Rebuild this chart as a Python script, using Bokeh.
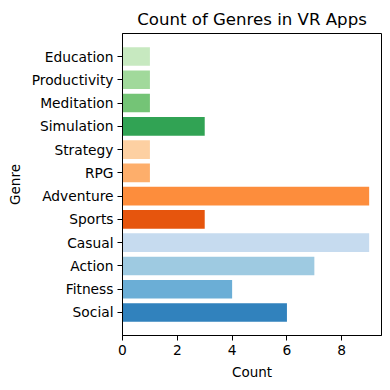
from bokeh.plotting import figure
from bokeh.models import ColumnDataSource, FactorRange, Range1d, FixedTicker
from bokeh.embed import file_html
from bokeh.resources import INLINE

genres = ["Social", "Fitness", "Action", "Casual", "Sports", "Adventure",
          "RPG", "Strategy", "Simulation", "Meditation", "Productivity", "Education"]
counts = [6, 4, 7, 9, 3, 9, 1, 1, 3, 1, 1, 1]
colors = ["#3182bd", "#6baed6", "#9ecae1", "#c6dbef",
          "#e6550d", "#fd8d3c", "#fdae6b", "#fdd0a2",
          "#31a354", "#74c476", "#a1d99b", "#c7e9c0"]
x_ticks = [0, 2, 4, 6, 8]

src = ColumnDataSource(dict(genre=genres, count=counts, color=colors))

FONT = "DejaVu Sans"
p = figure(width=382, height=382, output_backend="svg", toolbar_location=None,
           y_range=FactorRange(factors=genres, range_padding=0.98 / 12),
           x_range=Range1d(0, 9.45),
           title="Count of Genres in VR Apps",
           min_border_left=122, min_border_right=1, min_border_top=33, min_border_bottom=46)

p.hbar(y="genre", right="count", left=0, height=0.8, color="color", source=src, line_color=None)

p.title.align = "center"
p.title.text_font = FONT
p.title.text_font_size = "16.6px"
p.title.text_font_style = "normal"
p.title.text_color = "black"

p.xgrid.visible = False
p.ygrid.visible = False
p.outline_line_color = "black"
p.outline_line_alpha = 1
p.outline_line_width = 1

p.xaxis.ticker = FixedTicker(ticks=x_ticks)
p.xaxis.axis_label = "Count"
p.yaxis.axis_label = "Genre"
for ax in (p.xaxis[0], p.yaxis[0]):
    ax.axis_label_text_font = FONT
    ax.axis_label_text_font_size = "13.5px"
    ax.axis_label_text_font_style = "normal"
    ax.axis_label_text_color = "black"
    ax.major_label_text_font = FONT
    ax.major_label_text_font_size = "13.8px"
    ax.major_label_text_color = "black"
    ax.major_tick_in = 0
    ax.major_tick_out = 5
    ax.minor_tick_line_color = None
    ax.axis_line_color = "black"
    ax.major_tick_line_color = "black"
    ax.major_label_standoff = 4
    ax.axis_label_standoff = 6

open("out.html", "w").write(file_html(p, INLINE))
